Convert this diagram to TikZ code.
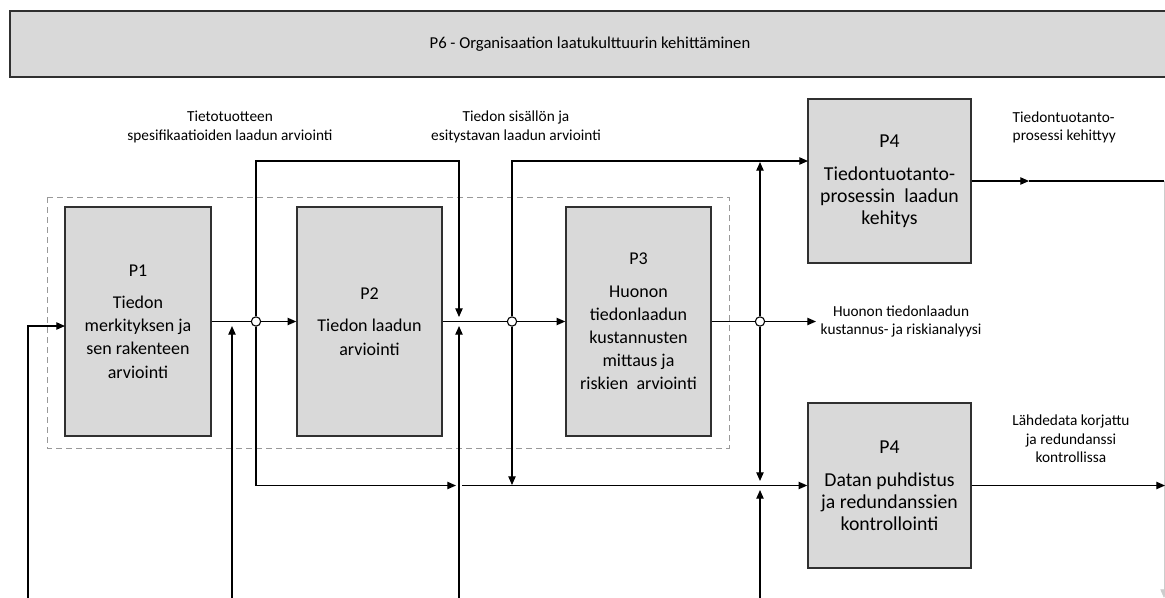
\documentclass[tikz,border=0pt]{standalone}
\usepackage{fontspec}
\setmainfont{Carlito}
\usetikzlibrary{arrows.meta,positioning}

\definecolor{boxgray}{HTML}{D9D9D9}
\definecolor{edgegray}{HTML}{303030}

\begin{document}
\begin{tikzpicture}[x=0.75pt,y=-0.75pt,
    proc/.style={draw=edgegray,fill=boxgray,line width=1.1pt,align=center,inner xsep=1pt,
      font=\fontsize{13.5}{17.3}\selectfont},
    bigproc/.style={proc,font=\fontsize{14.8}{16.6}\selectfont},
    flow/.style={-{Triangle[length=6.5pt,width=5.5pt]},line width=0.9pt},
    wire/.style={line width=0.9pt},
    junct/.style={circle,draw,fill=white,line width=0.8pt,inner sep=0pt,minimum size=7pt},
    lbl/.style={align=center,font=\fontsize{11.5}{14}\selectfont}]
  \useasboundingbox (0,0) rectangle (1165,597);

  % banner
  \node[proc,font=\fontsize{12.5}{15}\selectfont,minimum width=1160*0.75pt,minimum height=66*0.75pt]
    (p6) at (590,44) {P6 - Organisaation laatukulttuurin kehittäminen};

  % group of P1..P3
  \draw[dashed,dash pattern=on 4.5pt off 3pt,gray!80,line width=0.7pt] (47,197) rectangle (729,448);

  % processes
  \node[proc,minimum width=146*0.75pt,minimum height=229*0.75pt] (p1) at (138,321.5)
    {P1\\[7pt]Tiedon\\merkityksen ja\\sen rakenteen\\arviointi};
  \node[proc,minimum width=145*0.75pt,minimum height=229*0.75pt] (p2) at (369.5,321.5)
    {P2\\[7pt]Tiedon laadun\\arviointi};
  \node[proc,minimum width=145*0.75pt,minimum height=229*0.75pt] (p3) at (638.5,321.5)
    {P3\\[7pt]Huonon\\tiedonlaadun\\kustannusten\\mittaus ja\\riskien\ \ arviointi};
  \node[bigproc,minimum width=163*0.75pt,minimum height=164*0.75pt] (p4a) at (889.5,181)
    {P4\\[8pt]Tiedontuotanto-\\prosessin\ \ laadun\\kehitys};
  \node[bigproc,minimum width=163*0.75pt,minimum height=165*0.75pt] (p4b) at (889.5,485.5)
    {P4\\[8pt]Datan puhdistus\\ja redundanssien\\kontrollointi};

  % labels
  \node[lbl] (l1) at (230,127) {Tietotuotteen\\spesifikaatioiden laadun arviointi};
  \node[lbl] (l2) at (516,127) {Tiedon sisällön ja\\esitystavan laadun arviointi};
  \node[lbl,anchor=west] (l3) at (816,321.5) {Huonon tiedonlaadun\\kustannus- ja riskianalyysi};
  \node[lbl,align=left,anchor=west] (l4) at (1008,127.5) {Tiedontuotanto-\\prosessi kehittyy};
  \node[lbl] (l5) at (1071,439) {Lähdedata korjattu\\ja redundanssi\\kontrollissa};

  % junctions
  \node[junct] (j1) at (256,321.5) {};
  \node[junct] (j2) at (512,321.5) {};
  \node[junct] (j3) at (760,321.5) {};

  % free ends
  \coordinate (s1) at (28,600);
  \coordinate (s2) at (232,600);
  \coordinate (s3) at (459,600);
  \coordinate (s4) at (760,600);
  \coordinate (in1) at (65,326);
  \coordinate (t2) at (232,326);
  \coordinate (c1) at (459,161);
  \coordinate (t3a) at (459,317);
  \coordinate (t3b) at (459,326);
  \coordinate (in4a) at (808,161);
  \coordinate (t4a) at (760,162);
  \coordinate (t5) at (456,485.5);
  \coordinate (b0) at (462,485.5);
  \coordinate (t6) at (512,485);
  \coordinate (t7a) at (760,481);
  \coordinate (t7b) at (760,490);
  \coordinate (m1) at (1029,181);
  \coordinate (e1) at (1164,181);
  \coordinate (e2) at (1164,598);
  \coordinate (o2) at (1165,485.5);

  % main line
  \draw[flow] (s1) |- (in1);
  \draw[wire] (p1.east) -- (j1);
  \draw[flow] (j1) -- (p2.west);
  \draw[wire] (p2.east) -- (j2);
  \draw[flow] (j2) -- (p3.west);
  \draw[wire] (p3.east) -- (j3);
  \draw[flow] (j3) -- (l3.west);

  % feedback over the top
  \draw[flow] (j1) |- (c1) -- (t3a);
  \draw[flow] (j2) |- (in4a);
  \draw[flow] (j3) -- (t4a);

  % controls from below
  \draw[flow] (s2) -- (t2);
  \draw[flow] (s3) -- (t3b);
  \draw[flow] (s4) -- (t7b);

  % lower line to P4
  \draw[flow] (j1) |- (t5);
  \draw[flow] (b0) -- (p4b.west);
  \draw[flow] (j2) -- (t6);
  \draw[flow] (j3) -- (t7a);

  % outputs
  \draw[flow] (p4a.east) -- (m1);
  \draw[wire] (m1) -- (e1);
  \draw[flow,gray!40,line width=0.5pt] (e1) -- (e2);
  \draw[flow] (p4b.east) -- (o2);
\end{tikzpicture}
\end{document}
